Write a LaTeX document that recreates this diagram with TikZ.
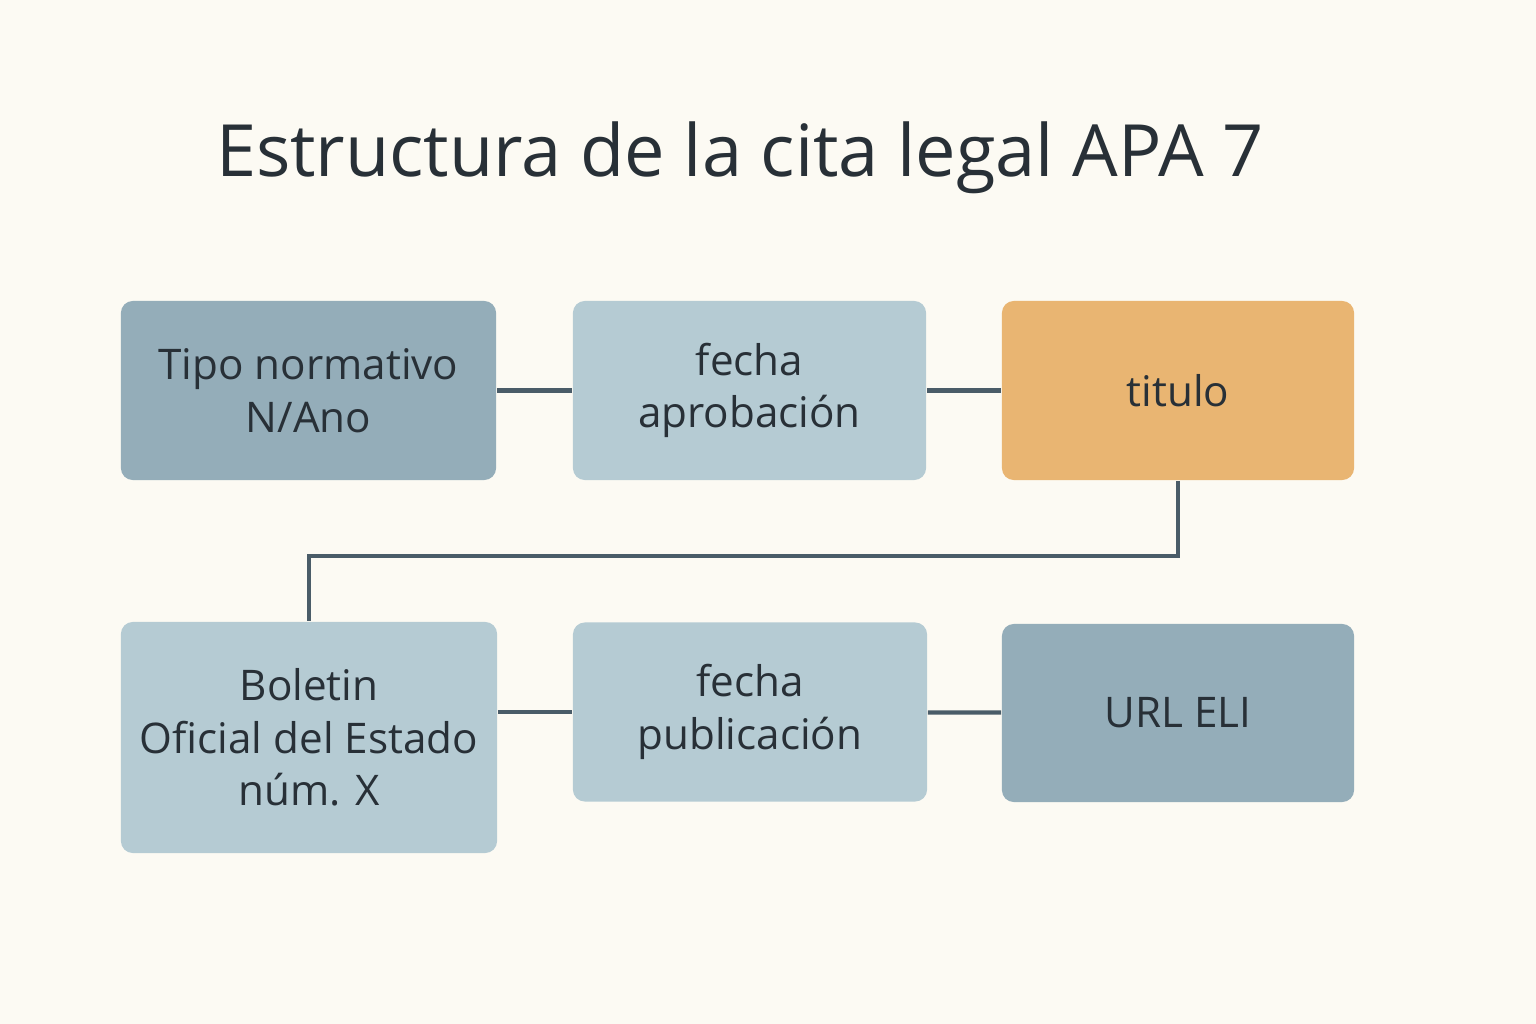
\documentclass[tikz,border=0pt]{standalone}
\usepackage{fontspec}
\setmainfont{Open Sans}
\usepackage{tikz}
\usetikzlibrary{positioning}
\definecolor{bg}{HTML}{FCFAF3}
\definecolor{darkbox}{HTML}{94ADB9}
\definecolor{lightbox}{HTML}{B5CBD3}
\definecolor{orangebox}{HTML}{E9B572}
\definecolor{ink}{HTML}{283037}
\definecolor{wire}{HTML}{4A5C68}
\tikzset{
    box/.style={
        rounded corners=1.2mm,
        minimum height=1.79cm,
        align=center,
        text=ink,
        font=\fontsize{12}{15}\selectfont,
        inner sep=1pt
    },
    link/.style={draw=wire, line width=1.2pt}
}

\begin{document}
\begin{tikzpicture}[x=0.01cm, y=-0.01cm]
    % Canvas
    \fill[bg] (0,0) rectangle (1536,1024);
    \useasboundingbox (0,0) rectangle (1536,1024);

    % Title
    \node[text=ink, font=\fontsize{20.5}{24}\selectfont] (title) at (740,158) {Estructura de la cita legal APA 7};

    % Top row
    \node[box, fill=darkbox, minimum width=3.75cm] (tipo) at (308.5,390.5) {Tipo normativo\\N/Ano};
    \node[box, fill=lightbox, minimum width=3.53cm] (aprob) at (749.5,390.5) {fecha\\aprobación};
    \node[box, fill=orangebox, minimum width=3.52cm] (titulo) at (1178,390.5) {titulo};

    % Bottom row
    \node[box, fill=lightbox, minimum width=3.76cm, minimum height=2.31cm] (boe) at (309,737.5) {Boletin\\Oficial del Estado\\núm. X};
    \node[box, fill=lightbox, minimum width=3.54cm] (publ) at (750,712) {fecha\\publicación};
    \node[box, fill=darkbox, minimum width=3.52cm, minimum height=1.78cm] (url) at (1178,713) {URL ELI};

    % Connectors
    \draw[link] (tipo) -- (aprob);
    \draw[link] (aprob) -- (titulo);
    \draw[link] (titulo.south) -- ++(0,75) -| (boe.north);
    \draw[link] (boe.east |- publ) -- (publ);
    \draw[link] (publ) -- (url);
\end{tikzpicture}
\end{document}
